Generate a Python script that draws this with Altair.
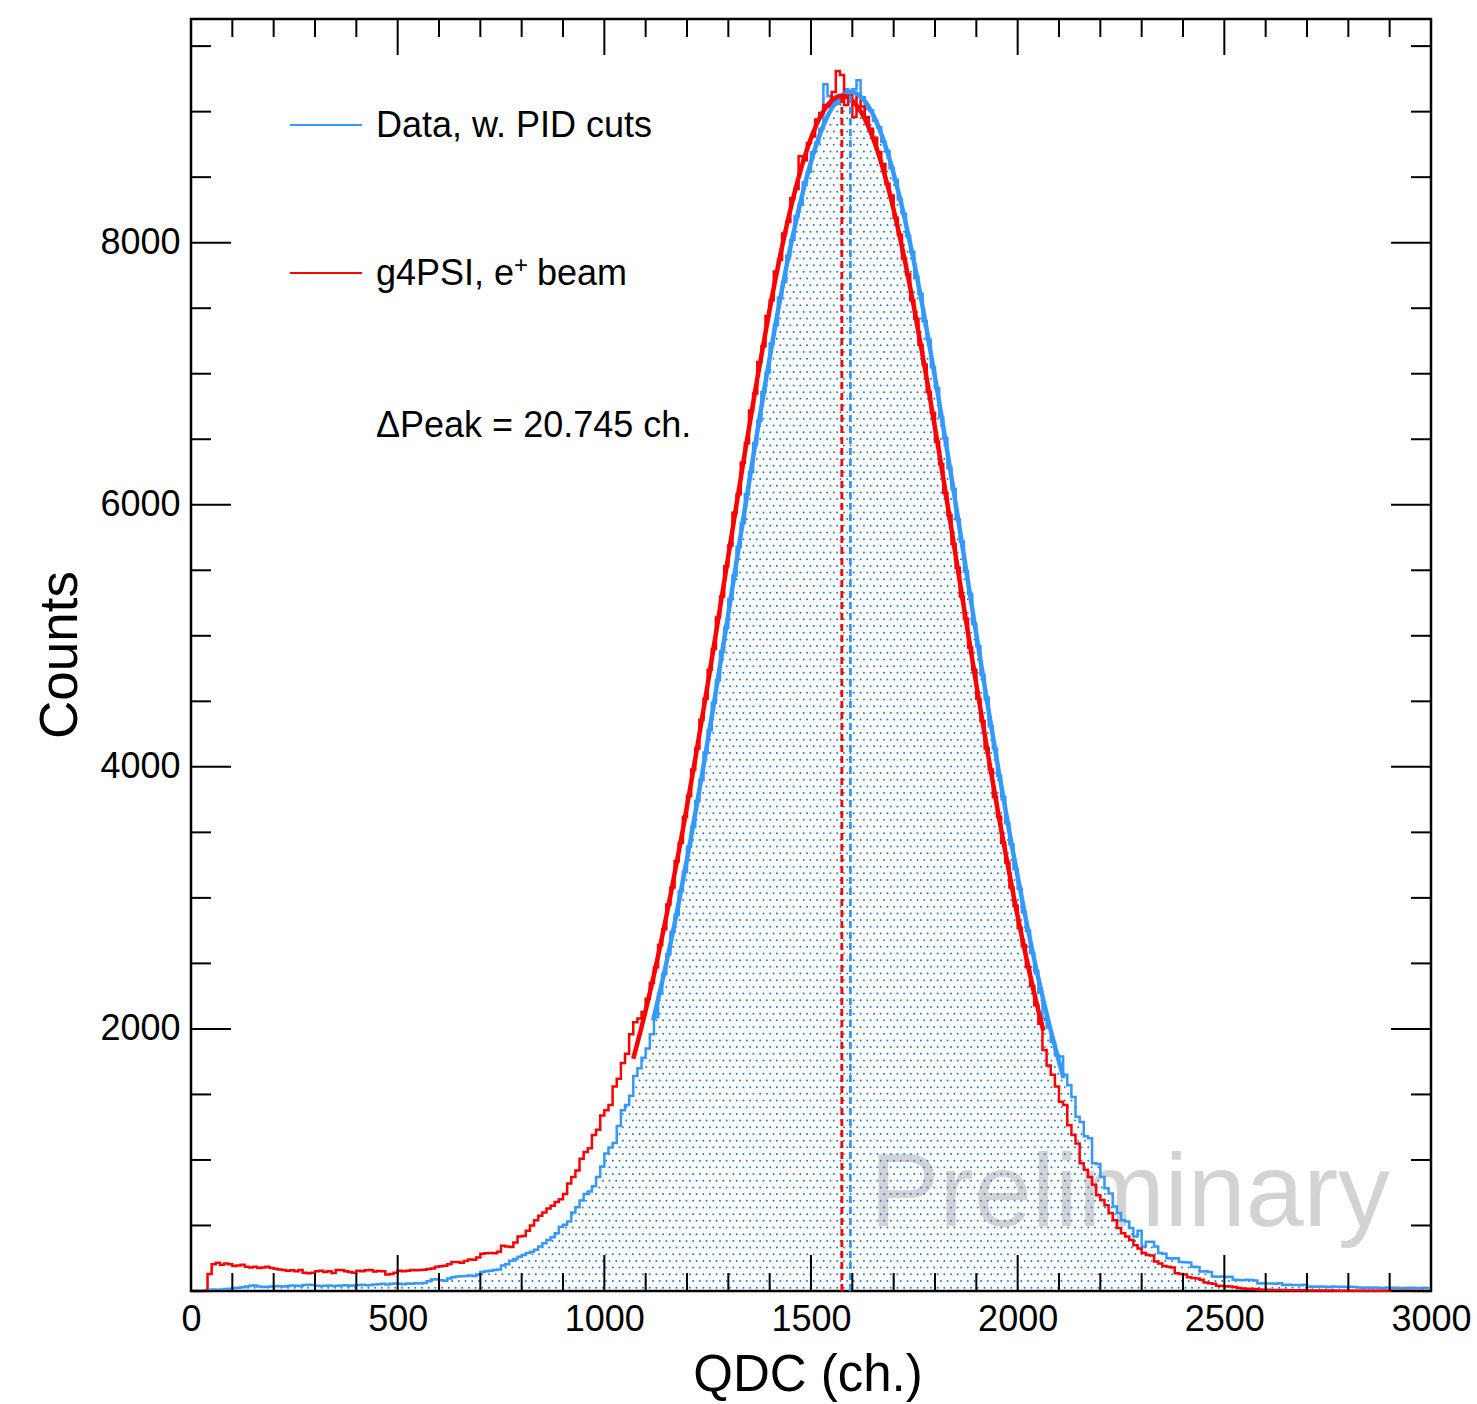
import altair as alt
import pandas as pd
import numpy as np

# ---------------- data ----------------
BIN_WIDTH = 10  # QDC channels per histogram bin, bins start at 0

RED_COUNTS = [
    0, 0, 0, 0, 130, 205, 215, 200, 210, 205,
    190, 195, 200, 185, 180, 185, 175, 180, 185, 175,
    170, 165, 160, 155, 158, 150, 160, 140, 135, 140,
    150, 155, 145, 150, 138, 160, 160, 150, 145, 140,
    155, 150, 158, 160, 148, 152, 150, 125, 130, 140,
    155, 150, 155, 160, 158, 160, 162, 168, 172, 185,
    188, 192, 205, 222, 222, 215, 228, 240, 238, 255,
    285, 288, 290, 288, 300, 345, 340, 335, 370, 415,
    420, 460, 500, 540, 575, 600, 630, 650, 680, 700,
    740, 820, 870, 920, 1010, 1060, 1090, 1190, 1230, 1340,
    1380, 1420, 1560, 1620, 1740, 1810, 1960, 2050, 2080, 2130,
    2230, 2350, 2470, 2640, 2760, 2950, 3080, 3280, 3420, 3620,
    3780, 3980, 4140, 4360, 4520, 4740, 4900, 5140, 5300, 5530,
    5690, 5940, 6080, 6320, 6470, 6720, 6850, 7090, 7210, 7440,
    7560, 7780, 7870, 8070, 8160, 8340, 8410, 8660, 8630, 8760,
    8810, 8940, 8990, 9050, 9040, 9150, 9310, 9280, 9050, 9130,
    8960, 9120, 9040, 8960, 8870, 8800, 8690, 8600, 8450, 8360,
    8190, 8060, 7880, 7760, 7560, 7420, 7220, 7070, 6860, 6700,
    6480, 6310, 6090, 5920, 5700, 5520, 5300, 5130, 4910, 4740,
    4520, 4350, 4140, 3980, 3770, 3620, 3420, 3270, 3080, 2940,
    2770, 2640, 2470, 2330, 2180, 2040, 1840, 1720, 1650, 1560,
    1445, 1420, 1265, 1190, 1125, 975, 925, 870, 810, 730,
    695, 655, 595, 540, 480, 440, 415, 390, 350, 325,
    290, 275, 270, 225, 210, 190, 185, 180, 135, 130,
    125, 105, 100, 95, 85, 65, 60, 55, 40, 38,
    36, 35, 30, 22, 20, 18, 16, 15, 12, 10,
    9, 8, 8, 7, 7, 6, 6, 5, 5, 5,
    4, 4, 4, 3, 3, 3, 3, 2, 2, 2,
    2, 2, 2, 2, 1, 1, 1, 1, 1, 1,
    1, 1, 1, 1, 1, 1, 0, 1, 0, 0,
]

BLUE_COUNTS = [
    0, 0, 0, 5, 10, 12, 10, 12, 15, 18,
    22, 25, 28, 35, 40, 42, 35, 30, 32, 35,
    38, 36, 35, 38, 42, 40, 38, 45, 48, 46,
    40, 38, 40, 42, 38, 40, 42, 44, 40, 42,
    45, 48, 44, 46, 50, 52, 55, 50, 56, 58,
    55, 52, 58, 56, 60, 58, 62, 75, 88, 90,
    82, 78, 95, 105, 110, 112, 115, 118, 114, 125,
    145, 150, 155, 160, 165, 195, 205, 230, 245, 262,
    275, 290, 300, 315, 340, 365, 390, 410, 440, 490,
    505, 530, 600, 640, 690, 740, 760, 800, 870, 950,
    1050, 1095, 1130, 1260, 1380, 1420, 1490, 1640, 1700, 1780,
    1850, 1960, 2090, 2270, 2420, 2570, 2740, 2870, 3050, 3200,
    3390, 3540, 3740, 3900, 4110, 4280, 4490, 4660, 4880, 5060,
    5280, 5460, 5680, 5860, 6080, 6250, 6470, 6640, 6860, 7010,
    7230, 7370, 7580, 7700, 7900, 8020, 8200, 8290, 8460, 8540,
    8690, 8760, 8870, 9210, 9120, 9050, 9060, 9100, 9170, 9160,
    9170, 9240, 9110, 9020, 9010, 8930, 8880, 8770, 8700, 8570,
    8480, 8330, 8220, 8050, 7930, 7740, 7610, 7400, 7260, 7050,
    6890, 6670, 6510, 6280, 6120, 5890, 5720, 5490, 5320, 5090,
    4920, 4700, 4530, 4310, 4140, 3930, 3770, 3570, 3410, 3220,
    3070, 2890, 2750, 2580, 2440, 2280, 2080, 2010, 1900, 1800,
    1790, 1650, 1570, 1480, 1330, 1290, 1180, 1165, 975, 970,
    870, 785, 745, 645, 595, 540, 530, 480, 415, 460,
    340, 375, 375, 340, 290, 285, 250, 248, 250, 222,
    220, 218, 185, 183, 148, 150, 145, 110, 108, 110,
    106, 109, 85, 84, 82, 86, 84, 80, 58, 60,
    57, 58, 56, 59, 46, 47, 45, 46, 44, 47,
    33, 34, 32, 35, 33, 31, 34, 32, 33, 30,
    32, 30, 26, 25, 27, 24, 26, 25, 23, 26,
    24, 25, 23, 22, 24, 25, 23, 22, 24, 21,
]

# Gaussian fit curves
RED_FIT_X = [1070, 1100, 1130, 1160, 1190, 1220, 1250, 1280, 1310, 1340, 1370, 1400,
             1430, 1460, 1490, 1520, 1550, 1575, 1600, 1630, 1660, 1690, 1720, 1750,
             1780, 1810, 1840, 1870, 1900, 1930, 1960, 1990, 2020, 2050, 2062]
RED_FIT_Y = [1772, 2141, 2557, 3017, 3521, 4060, 4628, 5215, 5809, 6398, 6963, 7492,
             7969, 8379, 8708, 8946, 9084, 9121, 9084, 8946, 8708, 8379, 7969, 7492,
             6963, 6398, 5809, 5215, 4628, 4060, 3521, 3017, 2557, 2141, 1988]
BLUE_FIT_X = [1118, 1146, 1176, 1206, 1236, 1266, 1296, 1326, 1356, 1386, 1416, 1446,
              1476, 1506, 1536, 1566, 1596, 1626, 1656, 1686, 1716, 1746, 1776, 1806,
              1836, 1866, 1896, 1926, 1956, 1986, 2016, 2046, 2076, 2111]
BLUE_FIT_Y = [2064, 2445, 2899, 3396, 3933, 4500, 5090, 5690, 6286, 6864, 7409, 7902,
              8330, 8680, 8938, 9096, 9150, 9096, 8938, 8680, 8330, 7902, 7409, 6864,
              6286, 5690, 5090, 4500, 3933, 3396, 2899, 2445, 2039, 1625]

RED_PEAK = 1574.6
BLUE_PEAK = 1595.3
RED_PEAK_H = 9121
BLUE_PEAK_H = 9150

X_TICK_LABELS = [0, 500, 1000, 1500, 2000, 2500, 3000]
Y_TICK_LABELS = [2000, 4000, 6000, 8000]
X_MINOR = list(range(0, 3001, 100))
Y_MINOR = list(range(0, 9501, 500))
X_MAJOR = list(range(0, 3001, 500))
Y_MAJOR = list(range(0, 9501, 2000))

LEGEND_DATA = "Data, w. PID cuts"
LEGEND_SIM_A = "g4PSI, e"
LEGEND_SIM_SUP = "+"
LEGEND_SIM_B = "beam"
DELTA_TEXT = "\u0394Peak = 20.745 ch."
WATERMARK = "Preliminary"
X_TITLE = "QDC (ch.)"
Y_TITLE = "Counts"

assert len(RED_COUNTS) == 300 and len(BLUE_COUNTS) == 300

# ---------------- styling ----------------
FONT = "Liberation Sans"
W, H = 1240, 1272
BLUE = "#3399ff"
RED = "#ff0000"
XS = alt.Scale(domain=[0, 3000], nice=False, zero=False)
YS = alt.Scale(domain=[0, 9707], nice=False, zero=False)
XAX = alt.Axis(values=X_TICK_LABELS, format="d", ticks=False, tickSize=0, domain=False,
               grid=False, labelFont=FONT, labelFontSize=36, labelColor="black",
               labelPadding=11, labelFlush=False, labelOverlap=False, title=None,
               labelBaseline="top")
YAX = alt.Axis(values=Y_TICK_LABELS, format="d", ticks=False, tickSize=0, domain=False,
               grid=False, labelFont=FONT, labelFontSize=36, labelColor="black",
               labelPadding=11, labelOverlap=False, title=None, labelBaseline="middle")


def X(f):
    return alt.X(f, type="quantitative", scale=XS, axis=XAX)


def Y(f):
    return alt.Y(f, type="quantitative", scale=YS, axis=YAX)


def Y2(f):
    return alt.Y2(f)


# ---------------- tables ----------------
edges = [i * BIN_WIDTH for i in range(301)]
hist = pd.DataFrame({
    "x": edges,
    "red": RED_COUNTS + [RED_COUNTS[-1]],
    "blue": BLUE_COUNTS + [BLUE_COUNTS[-1]],
})
red_fit = pd.DataFrame({"x": RED_FIT_X, "y": RED_FIT_Y})
blue_fit = pd.DataFrame({"x": BLUE_FIT_X, "y": BLUE_FIT_Y})

# dotted fill texture under the data histogram (derived from BLUE_COUNTS)
DX, DY = 16.2, 51.0
dots_x, dots_y = [], []
blue_arr = np.array(BLUE_COUNTS)
for j in range(int(10000 / DY)):
    yy = DY * (j + 0.5)
    off = (j % 2) * DX / 2
    xs = np.arange(off + DX / 2, 3000, DX)
    vals = blue_arr[np.clip((xs // BIN_WIDTH).astype(int), 0, 299)]
    keep = xs[vals > yy + 6]
    dots_x.extend(keep.tolist())
    dots_y.extend([yy] * len(keep))
dots = pd.DataFrame({"x": dots_x, "y": dots_y})

peaks = pd.DataFrame({"x": [RED_PEAK, BLUE_PEAK], "y0": [0, 0],
                      "y1": [RED_PEAK_H, BLUE_PEAK_H], "c": ["red", "blue"]})

# ---------------- layers ----------------
watermark = alt.Chart(pd.DataFrame({"t": [WATERMARK]})).mark_text(
    font=FONT, fontSize=104, color="#d3d3d3", align="left", baseline="alphabetic"
).encode(x=alt.value(679), y=alt.value(1207), text="t:N")

dot_layer = alt.Chart(dots).mark_circle(size=4, color="#1f78e0", opacity=1).encode(
    x=X("x"), y=Y("y"))

blue_line = alt.Chart(hist).mark_line(interpolate="step-after", color=BLUE, strokeWidth=2.5).encode(
    x=X("x"), y=Y("blue"))
red_line = alt.Chart(hist).mark_line(interpolate="step-after", color=RED, strokeWidth=2.5).encode(
    x=X("x"), y=Y("red"))

blue_fit_l = alt.Chart(blue_fit).mark_line(interpolate="monotone", color=BLUE, strokeWidth=4.5).encode(
    x=X("x"), y=Y("y"))
red_fit_l = alt.Chart(red_fit).mark_line(interpolate="monotone", color=RED, strokeWidth=4.5).encode(
    x=X("x"), y=Y("y"))

peak_lines = alt.Chart(peaks).mark_rule(strokeDash=[7, 4], strokeWidth=2.8).encode(
    x=X("x"), y=Y("y0"), y2=Y2("y1"),
    color=alt.Color("c:N", scale=alt.Scale(domain=["red", "blue"], range=[RED, BLUE]), legend=None))

tick_layers = []
xmin = [v for v in X_MINOR if v not in X_MAJOR]
ymin = [v for v in Y_MINOR if v not in Y_MAJOR]
for vals, ln in ((xmin, 18), (X_MAJOR, 36)):
    d = alt.Chart(pd.DataFrame({"v": vals}))
    tick_layers.append(d.mark_rule(color="black", strokeWidth=2).encode(
        x=X("v"), y=alt.value(H), y2=alt.value(H - ln)))
    tick_layers.append(d.mark_rule(color="black", strokeWidth=2).encode(
        x=X("v"), y=alt.value(0), y2=alt.value(ln)))
for vals, ln in ((ymin, 20), (Y_MAJOR, 40)):
    d = alt.Chart(pd.DataFrame({"v": vals}))
    tick_layers.append(d.mark_rule(color="black", strokeWidth=2).encode(
        y=Y("v"), x=alt.value(0), x2=alt.value(ln)))
    tick_layers.append(d.mark_rule(color="black", strokeWidth=2).encode(
        y=Y("v"), x=alt.value(W), x2=alt.value(W - ln)))


def text(t, x, y, size=36, **kw):
    return alt.Chart(pd.DataFrame({"t": [t]})).mark_text(
        font=FONT, fontSize=size, color="black", baseline="alphabetic", **kw
    ).encode(x=alt.value(x), y=alt.value(y), text="t:N")


leg_blue = alt.Chart(pd.DataFrame({"a": [0]})).mark_rule(color=BLUE, strokeWidth=2).encode(
    x=alt.value(99), x2=alt.value(171), y=alt.value(106))
leg_red = alt.Chart(pd.DataFrame({"a": [0]})).mark_rule(color=RED, strokeWidth=2).encode(
    x=alt.value(99), x2=alt.value(171), y=alt.value(254))

texts = [
    text(LEGEND_DATA, 185, 118, align="left"),
    text(LEGEND_SIM_A, 185, 266, align="left"),
    text(LEGEND_SIM_SUP, 323, 254, size=24, align="left"),
    text(LEGEND_SIM_B, 346, 266, align="left"),
    text(DELTA_TEXT, 185, 418, align="left"),
    text(X_TITLE, 617, 1372, size=51, align="center"),
    text(Y_TITLE, -114, 636, size=53, align="center", angle=270),
]

chart = alt.layer(
    watermark, dot_layer, blue_line, red_line, blue_fit_l, red_fit_l, peak_lines,
    *tick_layers, leg_blue, leg_red, *texts
).properties(
    width=W, height=H,
    autosize=alt.AutoSizeParams(type="none"),
    padding={"left": 191, "top": 19, "right": 46, "bottom": 113},
    background="white",
).configure_view(stroke="black", strokeWidth=2.5)

chart.save("out.html", embed_options={"renderer": "svg", "actions": False})
